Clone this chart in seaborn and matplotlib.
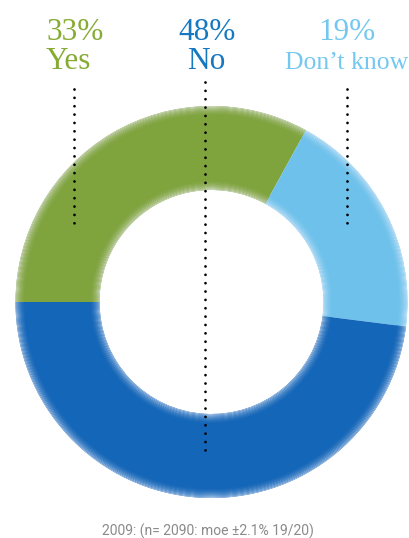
import numpy as np
import matplotlib
matplotlib.use("Agg")
import matplotlib.pyplot as plt
import matplotlib.colors as mcolors
import seaborn as sns

# Survey answers (2009)
answers = ["Yes", "Don't know", "No"]
shares = [33, 19, 48]
pct_labels = ["33%", "19%", "48%"]
footnote = "2009: (n= 2090: moe \u00b12.1% 19/20)"

ring_colors = ["#7fa33d", "#6dc1eb", "#1466b8"]
text_colors = ["#86ab33", "#74c8f0", "#1578c0"]

sns.set_theme(style="white")
plt.rcParams["font.family"] = ["Liberation Serif", "DejaVu Serif"]

W, H = 409, 538
fig = plt.figure(figsize=(W / 100, H / 100), dpi=100)
ax = fig.add_axes([0, 0, 1, 1])


def img_y(y):
    return H - y


cx, cy = 211.5, img_y(302)
R_out, R_in = 196.0, 112.0


def blend(c, t, toward="#f4f4ff"):
    a = np.array(mcolors.to_rgb(c))
    b = np.array(mcolors.to_rgb(toward))
    return tuple(a * (1 - t) + b * t)


def ring(r_hi, r_lo, t):
    ax.pie(shares, colors=[blend(c, t) for c in ring_colors], radius=r_hi,
           center=(cx, cy), startangle=180, counterclock=False,
           wedgeprops=dict(width=r_hi - r_lo, linewidth=0, antialiased=True),
           frame=True)


# solid body of the donut
ring(R_out, R_in, 0.0)
# soft bevel towards the outer and inner rims
band = 10
for k in range(band):
    t = 0.62 * ((band - k) / band) ** 1.8
    ring(R_out - k, R_out - k - 1, t)
    ring(R_in + k + 1, R_in + k, t)

ax.set_xlim(0, W)
ax.set_ylim(0, H)
ax.set_aspect("equal")
ax.axis("off")

# dotted leader lines
leaders = {"Yes": (73.5, 89, 223), "No": (205, 82, 450), "Don't know": (347, 89, 223)}
for name, (x, y0, y1) in leaders.items():
    ax.plot([x, x], [img_y(y0), img_y(y1)], color="black", lw=2.0,
            linestyle=(0, (0.01, 3.0)), dash_capstyle="round", zorder=5)

# category labels
fs = 22.5
ax.text(46, img_y(40), pct_labels[0], color=text_colors[0], fontsize=fs,
        ha="left", va="baseline")
ax.text(46, img_y(69), answers[0], color=text_colors[0], fontsize=fs,
        ha="left", va="baseline")
ax.text(207, img_y(40), pct_labels[2], color=text_colors[2], fontsize=fs,
        ha="center", va="baseline")
ax.text(206.5, img_y(69), answers[2], color=text_colors[2], fontsize=fs,
        ha="center", va="baseline")
ax.text(346.5, img_y(40), pct_labels[1], color=text_colors[1], fontsize=fs,
        ha="center", va="baseline")
ax.text(347, img_y(69), "Don\u2019t know", color=text_colors[1], fontsize=18.5,
        ha="center", va="baseline")

ax.text(207.5, img_y(535.5), footnote, color="#8a8a8a", fontsize=10,
        family=["Liberation Sans Narrow", "Roboto", "DejaVu Sans"],
        ha="center", va="baseline")

fig.savefig("out.png", dpi=100, facecolor="white")
